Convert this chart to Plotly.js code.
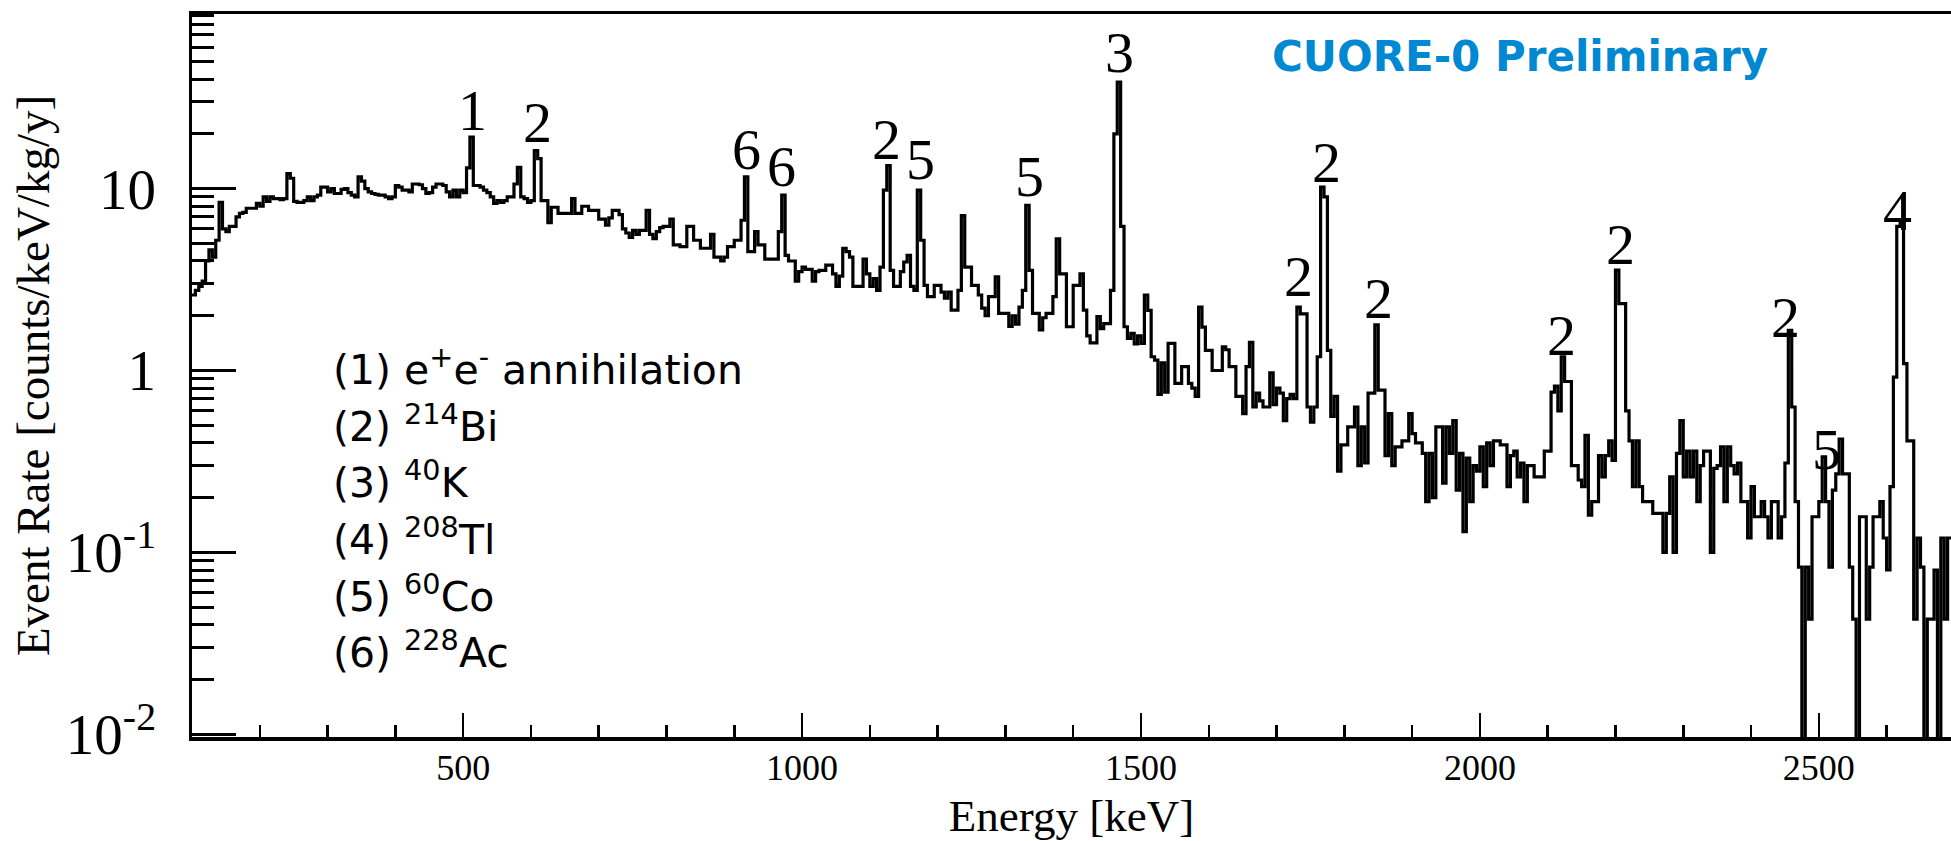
<!DOCTYPE html>
<html>
<head>
<meta charset="utf-8">
<script src="https://cdn.plot.ly/plotly-3.0.1.min.js"></script>
<style>
  html, body { margin: 0; padding: 0; background: #ffffff; }
  #chart { width: 1951px; height: 841px; }
</style>
</head>
<body>
<div id="chart"></div>
<script>
// ---- Data: event rate [counts/keV/kg/y] in 5 keV bins ----
const binWidth = 5;

const start1 = 100;
const rate100to600 = [
  2.6, 2.76, 2.9, 3.1, 4.0, 4.6, 4.2, 5.2, 8.4, 6.0,
  5.8, 6.2, 6.2, 7.0, 7.3, 7.4, 7.8, 7.8, 7.8, 8.3,
  8.0, 9.0, 8.5, 9.0, 8.8, 8.8, 8.7, 8.8, 12.1, 11.4,
  8.5, 8.4, 8.4, 8.6, 9.0, 8.6, 9.0, 9.2, 10.2, 10.2,
  9.6, 10.0, 9.4, 9.4, 9.9, 10.0, 9.5, 9.2, 9.0, 11.6,
  11.0, 10.0, 9.6, 9.4, 9.3, 9.2, 9.2, 9.0, 8.8, 9.0,
  10.4, 10.2, 9.8, 9.8, 9.6, 10.6, 10.6, 10.5, 10.0, 9.4,
  9.5, 10.2, 10.6, 10.6, 10.4, 9.6, 9.0, 9.8, 9.0, 9.8,
  9.5, 13.0, 19.2, 10.4, 10.4, 10.2, 9.8, 9.5, 9.0, 8.3,
  8.6, 8.4, 8.6, 9.0, 9.0, 10.6, 13.1, 9.0, 8.8, 8.4
];

const start2 = 600;
const rate600to1100 = [
  8.6, 16.2, 14.6, 8.6, 8.6, 6.5, 7.9, 7.9, 7.3, 7.3,
  7.3, 7.3, 8.8, 7.3, 7.3, 8.0, 8.0, 7.6, 7.6, 7.6,
  6.8, 6.8, 6.3, 6.9, 7.6, 7.6, 7.2, 6.0, 5.7, 5.4,
  5.9, 5.6, 5.9, 5.9, 7.6, 5.6, 5.3, 5.8, 6.1, 6.2,
  6.2, 6.8, 4.9, 4.9, 4.8, 4.8, 6.2, 6.2, 5.2, 5.2,
  4.7, 4.7, 4.7, 5.6, 4.2, 4.2, 4.0, 4.2, 4.8, 4.8,
  5.2, 5.2, 6.7, 11.6, 4.5, 4.5, 5.8, 4.9, 4.9, 4.1,
  4.1, 4.1, 4.1, 5.8, 9.2, 4.3, 4.0, 4.0, 3.1, 3.5,
  3.7, 3.6, 3.6, 3.1, 3.5, 3.55, 3.55, 3.8, 3.8, 3.4,
  2.9, 3.3, 4.7, 4.5, 4.2, 2.9, 2.9, 2.9, 4.1, 3.4
];

const start3 = 1100;
const rate1100to1600 = [
  2.9, 3.2, 2.76, 3.7, 9.8, 13.4, 3.55, 2.9, 2.9, 3.5,
  3.95, 4.3, 2.9, 2.76, 9.8, 5.2, 2.94, 2.55, 2.55, 2.94,
  2.94, 2.7, 2.5, 2.7, 2.15, 2.15, 2.76, 7.1, 3.7, 3.7,
  2.94, 2.94, 2.6, 2.2, 2.0, 2.55, 2.55, 3.27, 2.06, 2.06,
  2.06, 1.75, 2.0, 1.8, 2.23, 2.76, 8.1, 3.55, 2.06, 2.06,
  1.67, 1.95, 2.06, 2.06, 2.55, 5.3, 3.4, 3.4, 1.74, 1.74,
  2.94, 2.94, 3.4, 2.15, 1.55, 1.42, 1.42, 1.98, 1.7, 1.81,
  1.81, 2.76, 20.0, 38.5, 6.2, 1.74, 1.5, 1.6, 1.4, 1.55,
  1.41, 2.6, 2.14, 1.19, 1.14, 0.74, 1.1, 0.76, 1.41, 1.41,
  0.85, 0.85, 1.05, 1.05, 0.85, 0.8, 0.72, 2.23, 1.73, 1.29
];

const start4 = 1600;
const rate1600to2100 = [
  1.29, 1.0, 1.0, 1.0, 1.35, 1.3, 1.05, 1.05, 0.72, 0.72,
  0.58, 1.05, 1.43, 0.63, 0.75, 0.68, 0.63, 0.63, 0.97, 0.65,
  0.8, 0.75, 0.53, 0.7, 0.74, 0.7, 2.23, 2.05, 2.05, 0.63,
  0.52, 0.63, 1.19, 10.2, 9.0, 1.29, 0.56, 0.72, 0.28, 0.39,
  0.39, 0.49, 0.49, 0.63, 0.3, 0.49, 0.31, 0.75, 0.75, 1.78,
  0.78, 0.78, 0.34, 0.58, 0.3, 0.38, 0.38, 0.41, 0.41, 0.58,
  0.45, 0.4, 0.4, 0.35, 0.19, 0.35, 0.2, 0.49, 0.49, 0.24,
  0.49, 0.35, 0.53, 0.22, 0.35, 0.13, 0.33, 0.19, 0.3, 0.28,
  0.38, 0.23, 0.4, 0.3, 0.41, 0.41, 0.39, 0.39, 0.23, 0.34,
  0.36, 0.26, 0.31, 0.19, 0.3, 0.3, 0.26, 0.26, 0.26, 0.36
];

const start5 = 2100;
const rate2100to2700 = [
  0.36, 0.76, 0.82, 0.6, 1.19, 0.87, 0.87, 0.3, 0.3, 0.25,
  0.23, 0.44, 0.16, 0.19, 0.19, 0.34, 0.26, 0.34, 0.41, 0.32,
  3.56, 2.33, 2.33, 0.6, 0.41, 0.23, 0.41, 0.23, 0.19, 0.19,
  0.19, 0.164, 0.164, 0.164, 0.1, 0.164, 0.26, 0.1, 0.35, 0.53,
  0.26, 0.36, 0.26, 0.36, 0.19, 0.3, 0.36, 0.36, 0.1, 0.29,
  0.3, 0.38, 0.19, 0.38, 0.3, 0.27, 0.31, 0.19, 0.19, 0.12,
  0.23, 0.157, 0.157, 0.19, 0.157, 0.12, 0.19, 0.19, 0.12, 0.157,
  0.31, 1.66, 0.63, 0.19, 0.083, 0, 0.083, 0.043, 0.157, 0.157,
  0.19, 0.335, 0.19, 0.083, 0.22, 0.27, 0.42, 0.27, 0.27, 0.083,
  0.043, 0, 0.157, 0.157, 0.043, 0.083, 0.157, 0.157, 0.19, 0.12,
  0.08, 0.23, 0.92, 6.2, 6.7, 1.09, 0.41, 0.41, 0.043, 0.12,
  0.083, 0, 0.043, 0.043, 0.08, 0, 0.12, 0.043, 0.12, 0.12
];

// Peak identification labels
const peakLabels  = ['1', '2', '6', '6', '2', '5', '5', '3', '2', '2', '2', '2', '2', '2', '5', '4'];
const peakEnergy  = [514, 610, 918, 970, 1124, 1175, 1335, 1469, 1733, 1773, 1850, 2120, 2207, 2451, 2512, 2616];
const peakLabelAt = [26.9, 23.1, 16.4, 13.3, 18.6, 14.4, 11.6, 56.0, 3.29, 14.0, 2.48, 1.55, 4.9, 1.95, 0.37, 7.6];

// Legend of isotopes
const legendLines = [
  '(1) e<sup>+</sup>e<sup>-</sup> annihilation',
  '(2) <sup>214</sup>Bi',
  '(3) <sup>40</sup>K',
  '(4) <sup>208</sup>Tl',
  '(5) <sup>60</sup>Co',
  '(6) <sup>228</sup>Ac'
];

// ---- Build histogram step outline ----
const segments = [
  [start1, rate100to600], [start2, rate600to1100], [start3, rate1100to1600],
  [start4, rate1600to2100], [start5, rate2100to2700]
];
const xs = [], ys = [];
const floorVal = 1e-4; // empty bins drop below the axis
segments.forEach(([s, arr]) => {
  arr.forEach((v, i) => { xs.push(s + i * binWidth); ys.push(v > 0 ? v : floorVal); });
});
const lastEdge = start5 + rate2100to2700.length * binWidth;
xs.push(lastEdge); ys.push(ys[ys.length - 1]);

const trace = {
  type: 'scatter', mode: 'lines', x: xs, y: ys,
  line: { shape: 'hv', color: '#000000', width: 3.2 },
  hoverinfo: 'skip', showlegend: false, cliponaxis: true
};

// ---- Layout ----
const L = 192, R = 0, T = 14, B = 104, W = 1951, H = 841;
const pw = W - L - R, ph = H - T - B;
const px2paperX = p => (p - L) / pw;
const px2paperY = p => (H - B - p) / ph;

const serif = 'Liberation Serif, Times New Roman, serif';
const sans = 'DejaVu Sans, sans-serif';

const minorVals = [];
[0.01, 0.1, 1, 10].forEach(d => { for (let k = 2; k <= 9; k++) minorVals.push(k * d); });

const annotations = [];
peakLabels.forEach((t, i) => {
  annotations.push({
    x: peakEnergy[i], y: Math.log10(peakLabelAt[i]), xref: 'x', yref: 'y',
    text: t, showarrow: false, xanchor: 'center', yanchor: 'middle',
    font: { family: serif, size: 58, color: '#000' }
  });
});
const legendY = [367, 424, 480, 537, 594, 650];
legendLines.forEach((t, i) => {
  annotations.push({
    x: px2paperX(331), y: px2paperY(legendY[i]), xref: 'paper', yref: 'paper',
    text: t, showarrow: false, xanchor: 'left', yanchor: 'middle',
    font: { family: sans, size: 41, color: '#000' }
  });
});
annotations.push({
  x: px2paperX(1520), y: px2paperY(56), xref: 'paper', yref: 'paper',
  text: '<b>CUORE-0 Preliminary</b>', showarrow: false, xanchor: 'center', yanchor: 'middle',
  font: { family: sans, size: 42, color: '#0088d2' }
});

const layout = {
  width: W, height: H,
  margin: { l: L, r: R, t: T, b: B, pad: 0 },
  paper_bgcolor: '#ffffff', plot_bgcolor: '#ffffff',
  showlegend: false,
  xaxis: {
    range: [100, 2695], showgrid: false, zeroline: false,
    showline: true, linecolor: '#000', linewidth: 3.5, mirror: true,
    ticks: 'inside', ticklen: 24, tickwidth: 2.5, tickcolor: '#000',
    tickmode: 'array', tickvals: [500, 1000, 1500, 2000, 2500],
    ticktext: ['500', '1000', '1500', '2000', '2500'],
    ticklabelstandoff: -4,
    minor: { ticks: 'inside', ticklen: 12, tickwidth: 2.5, tickcolor: '#000', dtick: 100, tick0: 0, showgrid: false },
    tickfont: { family: serif, size: 36, color: '#000' },
    title: { text: 'Energy [keV]', font: { family: serif, size: 45, color: '#000' }, standoff: 25 }
  },
  yaxis: {
    type: 'log', range: [-2.015, 1.96], showgrid: false, zeroline: false,
    showline: true, linecolor: '#000', linewidth: 3.5, mirror: false,
    ticks: 'inside', ticklen: 44, tickwidth: 3, tickcolor: '#000',
    tickmode: 'array', tickvals: [0.01, 0.1, 1, 10],
    ticktext: ['10<sup>-2</sup>', '10<sup>-1</sup>', '1', '10'],
    ticklabelstandoff: 21,
    minor: { ticks: 'inside', ticklen: 22, tickwidth: 3, tickcolor: '#000', tickmode: 'array', tickvals: minorVals, showgrid: false },
    tickfont: { family: serif, size: 57, color: '#000' },
    title: { text: 'Event Rate [counts/keV/kg/y]', font: { family: serif, size: 47, color: '#000' }, standoff: 2 }
  },
  annotations: annotations
};

Plotly.newPlot('chart', [trace], layout, { displayModeBar: false, staticPlot: true });
</script>
</body>
</html>
